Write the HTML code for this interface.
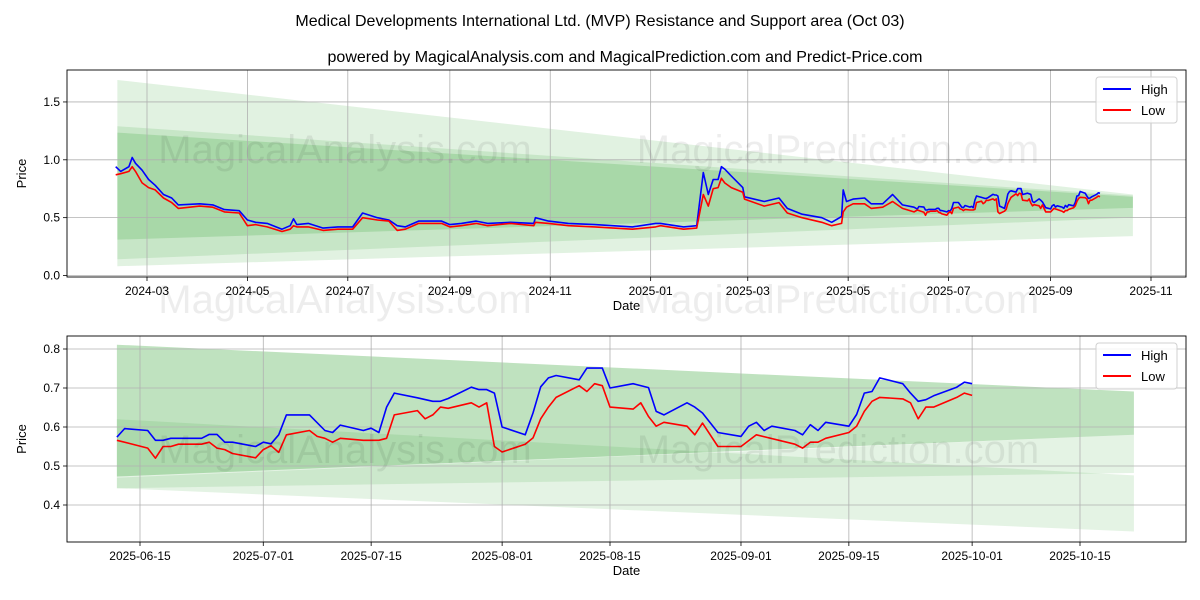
<!DOCTYPE html>
<html><head><meta charset="utf-8">
<style>
html,body{margin:0;padding:0;background:#fff;}
svg{display:block;font-family:"Liberation Sans","DejaVu Sans",sans-serif;}
</style></head>
<body>
<svg id="chart" width="1200" height="600" viewBox="0 0 1200 600" xmlns="http://www.w3.org/2000/svg">
<rect x="0" y="0" width="1200" height="600" fill="#fff"/>
<text x="600" y="26" text-anchor="middle" font-size="16" fill="#000">Medical Developments International Ltd. (MVP) Resistance and Support area (Oct 03)</text>
<text x="625" y="62" text-anchor="middle" font-size="16" fill="#000">powered by MagicalAnalysis.com and MagicalPrediction.com and Predict-Price.com</text>
<g id="top"></g>
<g id="bot"></g>
<g font-size="40" fill="#000" fill-opacity="0.07">
<text x="345" y="163" text-anchor="middle">MagicalAnalysis.com</text>
<text x="838" y="163" text-anchor="middle">MagicalPrediction.com</text>
<text x="345" y="313" text-anchor="middle">MagicalAnalysis.com</text>
<text x="838" y="313" text-anchor="middle">MagicalPrediction.com</text>
<text x="345" y="463" text-anchor="middle">MagicalAnalysis.com</text>
<text x="838" y="463" text-anchor="middle">MagicalPrediction.com</text>
</g>
</svg>
<script>
// ---------- data ----------
const earlyDates = ["2024-02-11","2024-02-14","2024-02-19","2024-02-21","2024-02-23","2024-02-27","2024-03-02","2024-03-06","2024-03-11","2024-03-16","2024-03-20","2024-04-02","2024-04-10","2024-04-17","2024-04-26","2024-05-01","2024-05-06","2024-05-13","2024-05-22","2024-05-27","2024-05-29","2024-05-31","2024-06-07","2024-06-16","2024-06-25","2024-07-04","2024-07-10","2024-07-19","2024-07-26","2024-07-31","2024-08-05","2024-08-13","2024-08-27","2024-09-01","2024-09-08","2024-09-17","2024-09-24","2024-10-08","2024-10-22","2024-10-23","2024-10-31","2024-11-12","2024-11-28","2024-12-21","2025-01-04","2025-01-07","2025-01-21","2025-01-29","2025-02-02","2025-02-05","2025-02-08","2025-02-11","2025-02-13","2025-02-15","2025-02-19","2025-02-26","2025-02-27","2025-03-11","2025-03-20","2025-03-25","2025-04-03","2025-04-15","2025-04-21","2025-04-27","2025-04-28","2025-04-30","2025-05-04","2025-05-11","2025-05-15","2025-05-22","2025-05-28","2025-06-03","2025-06-10"];
const earlyHigh = [0.94,0.90,0.94,1.02,0.97,0.91,0.83,0.78,0.70,0.67,0.61,0.62,0.61,0.57,0.56,0.48,0.46,0.45,0.40,0.43,0.49,0.44,0.45,0.41,0.42,0.42,0.54,0.50,0.48,0.43,0.42,0.47,0.47,0.44,0.45,0.47,0.45,0.46,0.45,0.50,0.47,0.45,0.44,0.42,0.45,0.45,0.42,0.43,0.89,0.70,0.83,0.83,0.94,0.92,0.86,0.76,0.68,0.64,0.67,0.58,0.53,0.50,0.46,0.51,0.74,0.64,0.66,0.67,0.62,0.62,0.70,0.61,0.59];
const earlyLow = [0.87,0.88,0.90,0.94,0.90,0.80,0.76,0.74,0.67,0.63,0.58,0.60,0.59,0.55,0.54,0.43,0.44,0.42,0.38,0.40,0.43,0.42,0.42,0.39,0.40,0.40,0.50,0.48,0.47,0.39,0.40,0.45,0.45,0.42,0.43,0.45,0.43,0.45,0.43,0.46,0.45,0.43,0.42,0.40,0.42,0.43,0.40,0.41,0.70,0.60,0.75,0.76,0.84,0.80,0.76,0.72,0.66,0.60,0.63,0.54,0.50,0.46,0.43,0.45,0.55,0.59,0.62,0.62,0.58,0.59,0.64,0.58,0.55];

const highDates = ["2025-06-12","2025-06-13","2025-06-16","2025-06-17","2025-06-18","2025-06-19","2025-06-23","2025-06-24","2025-06-25","2025-06-26","2025-06-27","2025-06-30","2025-07-01","2025-07-02","2025-07-03","2025-07-04","2025-07-07","2025-07-09","2025-07-10","2025-07-11","2025-07-14","2025-07-15","2025-07-16","2025-07-17","2025-07-18","2025-07-21","2025-07-23","2025-07-24","2025-07-25","2025-07-28","2025-07-29","2025-07-30","2025-07-31","2025-08-01","2025-08-04","2025-08-05","2025-08-06","2025-08-07","2025-08-08","2025-08-11","2025-08-12","2025-08-14","2025-08-15","2025-08-18","2025-08-20","2025-08-21","2025-08-22","2025-08-25","2025-08-26","2025-08-27","2025-08-29","2025-09-01","2025-09-02","2025-09-03","2025-09-04","2025-09-05","2025-09-08","2025-09-09","2025-09-10","2025-09-11","2025-09-12","2025-09-15","2025-09-16","2025-09-17","2025-09-18","2025-09-19","2025-09-22","2025-09-23","2025-09-24","2025-09-25","2025-09-26","2025-09-29","2025-09-30","2025-10-01"];
const highVals = [0.574,0.596,0.591,0.566,0.566,0.571,0.571,0.581,0.581,0.561,0.561,0.550,0.561,0.557,0.580,0.631,0.631,0.591,0.586,0.605,0.591,0.597,0.586,0.651,0.687,0.675,0.666,0.666,0.673,0.702,0.696,0.696,0.687,0.600,0.580,0.636,0.703,0.726,0.732,0.721,0.751,0.751,0.700,0.711,0.701,0.640,0.631,0.662,0.651,0.636,0.586,0.576,0.602,0.612,0.591,0.602,0.591,0.580,0.606,0.591,0.612,0.602,0.632,0.687,0.691,0.726,0.711,0.687,0.666,0.670,0.680,0.702,0.715,0.711];

const lowDates = ["2025-06-12","2025-06-16","2025-06-17","2025-06-18","2025-06-19","2025-06-20","2025-06-23","2025-06-24","2025-06-25","2025-06-26","2025-06-27","2025-06-30","2025-07-01","2025-07-02","2025-07-03","2025-07-04","2025-07-07","2025-07-08","2025-07-09","2025-07-10","2025-07-11","2025-07-14","2025-07-16","2025-07-17","2025-07-18","2025-07-21","2025-07-22","2025-07-23","2025-07-24","2025-07-25","2025-07-28","2025-07-29","2025-07-30","2025-07-31","2025-08-01","2025-08-04","2025-08-05","2025-08-06","2025-08-07","2025-08-08","2025-08-11","2025-08-12","2025-08-13","2025-08-14","2025-08-15","2025-08-18","2025-08-19","2025-08-20","2025-08-21","2025-08-22","2025-08-25","2025-08-26","2025-08-27","2025-08-29","2025-09-01","2025-09-03","2025-09-08","2025-09-09","2025-09-10","2025-09-11","2025-09-12","2025-09-15","2025-09-16","2025-09-17","2025-09-18","2025-09-19","2025-09-22","2025-09-23","2025-09-24","2025-09-25","2025-09-26","2025-09-29","2025-09-30","2025-10-01"];
const lowVals = [0.566,0.546,0.520,0.550,0.550,0.556,0.556,0.561,0.546,0.542,0.532,0.521,0.542,0.552,0.535,0.580,0.591,0.576,0.571,0.561,0.571,0.566,0.566,0.571,0.631,0.642,0.621,0.631,0.651,0.648,0.662,0.651,0.662,0.550,0.536,0.556,0.572,0.621,0.651,0.676,0.706,0.691,0.711,0.706,0.651,0.646,0.662,0.627,0.602,0.612,0.602,0.580,0.610,0.550,0.550,0.580,0.556,0.546,0.561,0.561,0.571,0.586,0.602,0.640,0.666,0.676,0.672,0.662,0.621,0.651,0.651,0.676,0.687,0.681];

// bands: [startTop, endTop, startBottom, endBottom]
const topBandDates = ["2024-02-12","2025-10-21"];
const topBandOuter = [1.69,0.70,0.08,0.34];
const topBandMid = [1.29,0.69,0.14,0.50];
const topBandInner = [1.235,0.68,0.31,0.585];
const botBandDates = ["2025-06-12","2025-10-22"];
const botBandMain = [0.811,0.691,0.473,0.580];
const botBandLow = [0.62,0.476,0.443,0.332];
const botBandMidLow = [0.47,0.58,0.443,0.482];

const topXTicks = ["2024-03-01","2024-05-01","2024-07-01","2024-09-01","2024-11-01","2025-01-01","2025-03-01","2025-05-01","2025-07-01","2025-09-01","2025-11-01"];
const topXLabels = ["2024-03","2024-05","2024-07","2024-09","2024-11","2025-01","2025-03","2025-05","2025-07","2025-09","2025-11"];
const topYTicks = [0.0,0.5,1.0,1.5];
const topYLabels = ["0.0","0.5","1.0","1.5"];
const botXTicks = ["2025-06-15","2025-07-01","2025-07-15","2025-08-01","2025-08-15","2025-09-01","2025-09-15","2025-10-01","2025-10-15"];
const botYTicks = [0.4,0.5,0.6,0.7,0.8];
const botYLabels = ["0.4","0.5","0.6","0.7","0.8"];

// ---------- rendering ----------
const NS = "http://www.w3.org/2000/svg";
const t = s => Date.parse(s + "T00:00:00Z");
function mk(parent, tag, attrs){ const e=document.createElementNS(NS,tag); for(const k in attrs) e.setAttribute(k,attrs[k]); parent.appendChild(e); return e; }

function panel(g, cfg){
  const {L,R,T,B,x,y} = cfg;
  cfg.bands.forEach((b)=>{
    const x0=x(t(cfg.bandDates[0])), x1=x(t(cfg.bandDates[1]));
    const p = mk(g,"polygon",{points:`${x0},${y(b.v[0])} ${x1},${y(b.v[1])} ${x1},${y(b.v[3])} ${x0},${y(b.v[2])}`, fill:"#2ca02c", "fill-opacity":b.a});
    
    
  });
  cfg.xTicks.forEach((d,i)=>{
    const xx=x(t(d));
    const ln = mk(g,"line",{x1:xx,x2:xx,y1:T,y2:B,stroke:"#b0b0b0","stroke-width":0.8});
    
    
    mk(g,"line",{x1:xx,x2:xx,y1:B,y2:B+4,stroke:"#000","stroke-width":0.8});
    const tx = mk(g,"text",{x:xx,y:B+18,"text-anchor":"middle","font-size":12,fill:"#000"});
    tx.textContent = cfg.xLabels[i];
    
    
  });
  cfg.yTicks.forEach((v,i)=>{
    const yy=y(v);
    const ln = mk(g,"line",{x1:L,x2:R,y1:yy,y2:yy,stroke:"#b0b0b0","stroke-width":0.8});
    
    
    mk(g,"line",{x1:L-4,x2:L,y1:yy,y2:yy,stroke:"#000","stroke-width":0.8});
    const tx = mk(g,"text",{x:L-7,y:yy+4,"text-anchor":"end","font-size":12,fill:"#000"});
    tx.textContent = cfg.yLabels[i];
    
    
  });
  cfg.series.forEach(s=>{
    const pts = s.d.map((d,i)=>`${x(t(d)).toFixed(1)},${y(s.v[i]).toFixed(1)}`).join(" ");
    const pl = mk(g,"polyline",{points:pts,fill:"none",stroke:s.c,"stroke-width":1.6,"stroke-linejoin":"round"});
    
    
  });
  const fr = mk(g,"rect",{x:L,y:T,width:R-L,height:B-T,fill:"none",stroke:"#000","stroke-width":0.9});
  
  
  const xl = mk(g,"text",{x:(L+R)/2,y:B+33,"text-anchor":"middle","font-size":13,fill:"#000"});
  xl.textContent="Date";
  
  
  const yl = mk(g,"text",{x:0,y:0,"text-anchor":"middle","font-size":13,fill:"#000",transform:`translate(26,${(T+B)/2}) rotate(-90)`});
  yl.textContent="Price";
  
  
  const lg = mk(g,"g",{});
  
  
  const ly=T+7;
  mk(lg,"rect",{x:1096,y:ly,width:81,height:46,rx:3,fill:"#fff","fill-opacity":0.85,stroke:"#d0d0d0"});
  [["High","#0000ff"],["Low","#ff0000"]].forEach((e,i)=>{
    const eg = mk(lg,"g",{});
    
    
    mk(eg,"line",{x1:1103,x2:1131,y1:ly+12+i*21,y2:ly+12+i*21,stroke:e[1],"stroke-width":2});
    const tx=mk(eg,"text",{x:1141,y:ly+17+i*21,"font-size":13,fill:"#000"}); tx.textContent=e[0];
  });
}

{
  const L=67,R=1186,T=70,B=277;
  const x0=t("2024-03-01"), x1=t("2025-11-01");
  const x = v => 147 + (v-x0)/(x1-x0)*(1151-147);
  const y = v => 275.5 - v*115.7;
  panel(document.getElementById("top"),{L,R,T,B,x,y,
    bandDates:topBandDates,
    bands:[{name:"outer",v:topBandOuter,a:0.14},{name:"mid",v:topBandMid,a:0.14},{name:"inner",v:topBandInner,a:0.2}],
    xTicks:topXTicks,xLabels:topXLabels,yTicks:topYTicks,yLabels:topYLabels,
    series:[{name:"high-line",d:earlyDates.concat(highDates),v:earlyHigh.concat(highVals),c:"#0000ff"},
            {name:"low-line",d:earlyDates.concat(lowDates),v:earlyLow.concat(lowVals),c:"#ff0000"}]});
}
{
  const L=67,R=1186,T=336,B=542;
  const x0=t("2025-06-15"), x1=t("2025-10-15");
  const x = v => 140 + (v-x0)/(x1-x0)*(1080-140);
  const yy = v => 349 + (0.8-v)*390;
  panel(document.getElementById("bot"),{L,R,T,B,x,y:yy,
    bandDates:botBandDates,
    bands:[{name:"main",v:botBandMain,a:0.3},{name:"low",v:botBandLow,a:0.13},{name:"mid-low",v:botBandMidLow,a:0.13}],
    xTicks:botXTicks,xLabels:botXTicks,yTicks:botYTicks,yLabels:botYLabels,
    series:[{name:"high-line-zoom",d:highDates,v:highVals,c:"#0000ff"},
            {name:"low-line-zoom",d:lowDates,v:lowVals,c:"#ff0000"}]});
}
</script>
</body></html>
